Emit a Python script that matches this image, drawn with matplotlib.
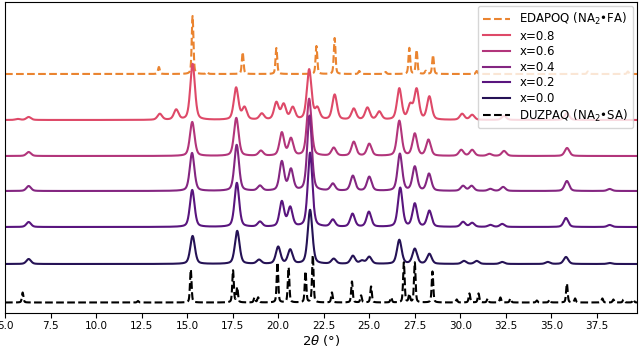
import numpy as np
import matplotlib
matplotlib.use("Agg")
import matplotlib.pyplot as plt

# peak tables: (2theta, height)
edapoq_peaks = [(13.45, 7), (15.3, 58), (16.1, 2), (18.05, 22), (19.9, 26), (22.1, 28),
                (23.1, 36), (24.45, 3), (25.9, 2), (27.2, 26), (27.6, 24), (28.1, 3),
                (28.5, 19), (30.9, 3), (37.0, 2.5), (39.2, 2.5)]
x08_peaks = [(5.7, 1), (6.3, 3), (13.5, 6), (14.4, 10), (15.3, 56), (17.69, 32), (18.15, 12),
             (19.1, 6), (19.9, 17), (20.3, 15), (20.8, 12), (21.7, 50), (22.15, 11), (23.1, 25),
             (24.15, 11), (24.9, 12), (25.55, 8), (26.65, 31), (27.25, 14), (27.6, 30),
             (28.3, 23), (30.1, 6), (30.65, 5), (32.4, 4), (35.85, 7)]
x06_peaks = [(6.3, 4), (15.28, 34), (17.7, 38), (19.05, 5), (20.2, 23), (20.7, 17), (21.7, 57),
             (23.05, 8), (24.15, 14), (25.0, 12), (26.65, 35), (27.5, 22), (28.25, 16),
             (30.05, 6), (30.65, 6), (31.6, 2), (32.4, 5), (35.86, 8)]
x04_peaks = [(6.3, 5), (15.27, 38), (17.72, 46), (19.0, 5), (20.2, 29), (20.7, 21), (21.72, 75),
             (23.0, 7), (24.1, 15), (25.0, 14), (26.68, 37), (27.5, 24), (28.28, 17),
             (30.15, 5), (30.62, 5), (31.65, 2), (32.35, 4), (35.85, 10), (38.2, 2)]
x02_peaks = [(6.3, 5), (15.28, 37), (17.73, 44), (19.0, 5), (20.2, 25), (20.66, 19), (21.75, 74),
             (23.0, 7), (24.08, 13), (24.98, 15), (26.7, 39), (27.5, 23), (28.3, 16),
             (30.15, 5), (30.65, 4), (31.65, 2), (32.3, 3), (35.8, 9), (38.2, 2)]
x00_peaks = [(6.3, 5), (15.3, 28), (17.75, 33), (18.95, 4), (20.0, 17), (20.66, 14), (21.75, 54),
             (23.05, 5), (24.1, 8), (24.6, 3), (25.0, 7), (26.65, 24), (27.5, 15), (28.3, 10),
             (30.2, 3), (30.9, 3), (32.3, 2), (34.8, 2), (35.8, 7), (38.2, 1)]
duzpaq_peaks = [(5.97, 10), (12.3, 1.5), (15.2, 33), (17.52, 32), (17.75, 15), (18.7, 5),
                (18.9, 5), (19.96, 40), (20.57, 35), (21.5, 31), (21.9, 47), (22.95, 10),
                (24.05, 21), (24.55, 7), (25.1, 16), (26.2, 5), (26.9, 40), (27.2, 8),
                (27.5, 40), (28.47, 31), (29.8, 3), (30.5, 9), (31.0, 9), (31.5, 4),
                (32.2, 5), (32.75, 4), (34.2, 2), (34.9, 3), (35.85, 19), (36.3, 4),
                (37.8, 4), (38.4, 3), (38.96, 3), (39.5, 3)]

labels = ["EDAPOQ (NA$_2$\u2022FA)", "x=0.8", "x=0.6", "x=0.4", "x=0.2", "x=0.0",
          "DUZPAQ (NA$_2$\u2022SA)"]
offsets = [239, 193, 157, 122, 86, 49, 10.5]
widths = [0.11, 0.3, 0.3, 0.3, 0.3, 0.3, 0.1]
cmap = plt.get_cmap("magma")
colors = ["#ea8430", cmap(0.6), cmap(0.49), cmap(0.38), cmap(0.27), cmap(0.15), "black"]
styles = ["--", "-", "-", "-", "-", "-", "--"]
all_peaks = [edapoq_peaks, x08_peaks, x06_peaks, x04_peaks, x02_peaks, x00_peaks, duzpaq_peaks]

tt = np.arange(5.0, 39.75, 0.01)


def pattern(peaks, fwhm):
    y = np.zeros_like(tt)
    for pos, h in peaks:
        g = np.exp(-4 * np.log(2) * ((tt - pos) / fwhm) ** 2)
        l = 1 / (1 + 4 * ((tt - pos) / fwhm) ** 2)
        y += h * (0.6 * g + 0.4 * l)
    return y


fig = plt.figure(figsize=(6.4, 3.49), dpi=100)
ax = fig.add_axes([5 / 640, 36 / 349, 632 / 640, 311 / 349])

for peaks, off, w, c, ls, lab in zip(all_peaks, offsets, widths, colors, styles, labels):
    ax.plot(tt, pattern(peaks, w) + off, color=c, ls=ls, lw=1.5, label=lab)

ax.set_xlim(5.0, 39.7)
ax.set_ylim(0, 311)
ax.set_yticks([])
ax.set_xticks(np.arange(5.0, 39.0, 2.5))
ax.tick_params(axis="x", labelsize=7.5, pad=2.5)
ax.set_xlabel(r"2$\theta$ (°)", fontsize=9.5, labelpad=1)
ax.legend(loc="upper right", fontsize=8.5, labelspacing=0.22, handlelength=2.3,
          borderaxespad=0.35)

fig.savefig("out.png", dpi=100)
